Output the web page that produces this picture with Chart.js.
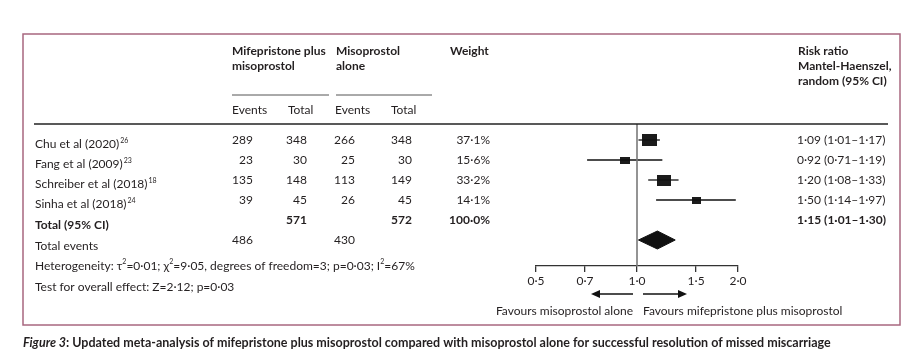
<!DOCTYPE html>
<html>

<head>
    <title>Mifepristone plus misoprostol forest plot</title>
    <script src="https://cdn.jsdelivr.net/npm/chart.js"></script>
    <style>
        body { margin: 0; background: #fff; }
        #wrap { width: 910px; height: 360px; }
    </style>
</head>

<body>
    <div id="wrap"><canvas id="myChart" width="910" height="360"></canvas></div>
    <script>
        // study data
        const studies = ['Chu et al (2020)', 'Fang et al (2009)', 'Schreiber et al (2018)', 'Sinha et al (2018)'];
        const refs = ['26', '23', '18', '24'];
        const mifEvents = [289, 23, 135, 39];
        const mifTotal = [348, 30, 148, 45];
        const misoEvents = [266, 25, 113, 26];
        const misoTotal = [348, 30, 149, 45];
        const weights = [37.1, 15.6, 33.2, 14.1];
        const riskRatio = [1.09, 0.92, 1.20, 1.50];
        const ciLow = [1.01, 0.71, 1.08, 1.14];
        const ciHigh = [1.17, 1.19, 1.33, 1.97];

        // pooled result: estimate, lower, upper
        const pooled = [1.15, 1.01, 1.30];
        const totals = [571, 572];
        const totalEvents = [486, 430];
        const xTicks = [0.5, 0.7, 1.0, 1.5, 2.0];

        const FONT = 'Lato';
        const INK = '#231f20';
        const dot = (v, d) => v.toFixed(d).replace('.', '\u00b7');

        // square markers sized by weight
        function squareFor(w) {
            const side = 2.15 * Math.sqrt(w);
            const c = document.createElement('canvas');
            c.width = Math.round(side * 1.12);
            c.height = Math.round(side * 0.88);
            const g = c.getContext('2d');
            g.fillStyle = '#1b1b1b';
            g.fillRect(0, 0, c.width, c.height);
            return c;
        }

        const datasets = [];
        // null line at 1.0
        datasets.push({
            data: [{ x: 1, y: -0.8 }, { x: 1, y: 6.3 }],
            showLine: true, pointRadius: 0, borderColor: '#7a7a7a', borderWidth: 1.6
        });
        studies.forEach((s, i) => {
            datasets.push({
                data: [{ x: ciLow[i], y: i }, { x: ciHigh[i], y: i }],
                showLine: true, pointRadius: 0, borderColor: '#111', borderWidth: 1.3
            });
        });
        datasets.push({
            data: riskRatio.map((v, i) => ({ x: v, y: i })),
            pointStyle: weights.map(squareFor),
            pointRadius: 6
        });
        datasets.push({
            data: [
                { x: pooled[1], y: 5 }, { x: pooled[0], y: 4.55 },
                { x: pooled[2], y: 5 }, { x: pooled[0], y: 5.45 }, { x: pooled[1], y: 5 }
            ],
            showLine: true, pointRadius: 0, borderColor: '#111', borderWidth: 1,
            backgroundColor: '#111', fill: 'shape', tension: 0
        });

        function txt(ctx, s, x, y, opts = {}) {
            ctx.font = (opts.style || '') + ' ' + (opts.weight || 'normal') + ' ' + (opts.size || 12) + 'px ' + FONT;
            ctx.fillStyle = opts.color || INK;
            ctx.textAlign = opts.align || 'left';
            ctx.textBaseline = 'middle';
            ctx.fillText(s, x, y);
            return ctx.measureText(s).width;
        }

        function line(ctx, x1, y1, x2, y2, color, w) {
            ctx.beginPath();
            ctx.strokeStyle = color;
            ctx.lineWidth = w;
            ctx.moveTo(x1, y1);
            ctx.lineTo(x2, y2);
            ctx.stroke();
        }

        const tablePlugin = {
            id: 'table',
            afterDraw(chart) {
                const ctx = chart.ctx;
                const ys = chart.scales.y;
                const xs = chart.scales.x;
                ctx.save();

                // frame
                ctx.strokeStyle = '#a8677f';
                ctx.lineWidth = 1.5;
                ctx.strokeRect(23, 34, 877, 291);

                // header
                const b = { weight: 'bold' };
                txt(ctx, 'Mifepristone plus', 232, 51, b);
                txt(ctx, 'misoprostol', 232, 66, b);
                txt(ctx, 'Misoprostol', 336, 51, b);
                txt(ctx, 'alone', 336, 66, b);
                txt(ctx, 'Weight', 450, 51, b);
                txt(ctx, 'Risk ratio', 798, 51, b);
                txt(ctx, 'Mantel-Haenszel,', 798, 66, b);
                txt(ctx, 'random (95% CI)', 798, 81, b);
                line(ctx, 232, 95, 329, 95, '#555', 1);
                line(ctx, 336, 95, 432, 95, '#555', 1);
                txt(ctx, 'Events', 232, 110);
                txt(ctx, 'Total', 288, 110);
                txt(ctx, 'Events', 335, 110);
                txt(ctx, 'Total', 391, 110);
                line(ctx, 34, chart.chartArea.top, 888, chart.chartArea.top, '#222', 1.3);

                // study rows
                studies.forEach((s, i) => {
                    const y = ys.getPixelForValue(i);
                    const w = txt(ctx, s, 35, y + 4);
                    txt(ctx, refs[i], 35 + w + 1, y + 1, { size: 7 });
                    txt(ctx, String(mifEvents[i]), 253, y, { align: 'right' });
                    txt(ctx, String(mifTotal[i]), 307, y, { align: 'right' });
                    txt(ctx, String(misoEvents[i]), 355, y, { align: 'right' });
                    txt(ctx, String(misoTotal[i]), 412, y, { align: 'right' });
                    txt(ctx, dot(weights[i], 1) + '%', 490, y, { align: 'right' });
                    txt(ctx, dot(riskRatio[i], 2) + ' (' + dot(ciLow[i], 2) + '\u2013' + dot(ciHigh[i], 2) + ')', 797, y);
                });

                // totals
                const yt = ys.getPixelForValue(4);
                txt(ctx, 'Total (95% CI)', 35, yt + 5, b);
                txt(ctx, String(totals[0]), 307, yt, { weight: 'bold', align: 'right' });
                txt(ctx, String(totals[1]), 412, yt, { weight: 'bold', align: 'right' });
                txt(ctx, dot(100, 1) + '%', 490, yt, { weight: 'bold', align: 'right' });
                txt(ctx, dot(pooled[0], 2) + ' (' + dot(pooled[1], 2) + '\u2013' + dot(pooled[2], 2) + ')', 797, yt, b);
                const ye = ys.getPixelForValue(5);
                txt(ctx, 'Total events', 35, ye + 6);
                txt(ctx, String(totalEvents[0]), 253, ye, { align: 'right' });
                txt(ctx, String(totalEvents[1]), 355, ye, { align: 'right' });

                // heterogeneity lines
                let x = 35;
                const y1 = 266;
                x += txt(ctx, 'Heterogeneity: \u03c4', x, y1);
                x += txt(ctx, '2', x, y1 - 4, { size: 7 });
                x += txt(ctx, '=0\u00b701; \u03c7', x, y1);
                x += txt(ctx, '2', x, y1 - 4, { size: 7 });
                x += txt(ctx, '=9\u00b705, degrees of freedom=3; p=0\u00b703; I', x, y1);
                x += txt(ctx, '2', x, y1 - 4, { size: 7 });
                txt(ctx, '=67%', x, y1);
                txt(ctx, 'Test for overall effect: Z=2\u00b712; p=0\u00b703', 35, 287);

                // favours arrows
                const x1 = xs.getPixelForValue(1);
                const ya = 294;
                ctx.fillStyle = '#111';
                line(ctx, x1 - 4, ya, x1 - 38, ya, '#111', 1.3);
                ctx.beginPath();
                ctx.moveTo(x1 - 46, ya); ctx.lineTo(x1 - 37, ya - 4); ctx.lineTo(x1 - 37, ya + 4); ctx.closePath(); ctx.fill();
                line(ctx, x1 + 6, ya, x1 + 42, ya, '#111', 1.3);
                ctx.beginPath();
                ctx.moveTo(x1 + 50, ya); ctx.lineTo(x1 + 41, ya - 4); ctx.lineTo(x1 + 41, ya + 4); ctx.closePath(); ctx.fill();
                txt(ctx, 'Favours misoprostol alone', x1 - 4, 311, { align: 'right' });
                txt(ctx, 'Favours mifepristone plus misoprostol', x1 + 6, 311);

                // caption
                const cw = txt(ctx, 'Figure 3', 23, 343, { style: 'italic', weight: 'bold', size: 12.5 });
                txt(ctx, ': Updated meta-analysis of mifepristone plus misoprostol compared with misoprostol alone for successful resolution of missed miscarriage', 23 + cw, 343, { weight: 'bold', size: 12.5 });

                ctx.restore();
            }
        };

        const config = {
            type: 'scatter',
            data: { datasets: datasets },
            options: {
                responsive: false,
                animation: false,
                layout: { padding: { left: 536, right: 172, top: 124, bottom: 0 } },
                plugins: { legend: { display: false }, tooltip: { enabled: false } },
                scales: {
                    x: {
                        type: 'logarithmic',
                        min: 0.5,
                        max: 2,
                        afterBuildTicks: s => { s.ticks = xTicks.map(v => ({ value: v })); },
                        afterFit: s => { s.height = 94; },
                        ticks: {
                            callback: v => dot(v, 1),
                            autoSkip: false,
                            maxRotation: 0,
                            padding: 2,
                            color: INK,
                            font: { family: FONT, size: 12 }
                        },
                        grid: { drawOnChartArea: false, drawTicks: true, tickLength: 6, color: '#333', lineWidth: 1.3 },
                        border: { display: true, color: '#333', width: 1.3 }
                    },
                    y: { display: false, min: -0.8, max: 6.3, reverse: true }
                }
            },
            plugins: [tablePlugin]
        };

        var myChart = new Chart(document.getElementById('myChart'), config);
    </script>
</body>

</html>
